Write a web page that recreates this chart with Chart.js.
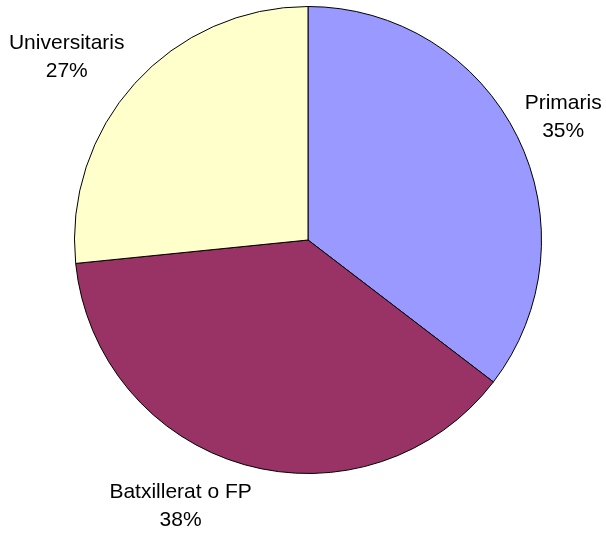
<!DOCTYPE html>
<html>
<head>
<meta charset="utf-8">
<script src="https://cdn.jsdelivr.net/npm/chart.js@4/dist/chart.umd.min.js"></script>
<style>
html,body{margin:0;padding:0;background:#fff;}
#wrap{width:606px;height:536px;position:relative;}
</style>
</head>
<body>
<div id="wrap"><canvas id="c" width="606" height="536"></canvas></div>
<script>
const categories = ["Primaris", "Batxillerat o FP", "Universitaris"];
const values = [35.4, 38.0, 26.6];
const percentLabels = ["35%", "38%", "27%"];
const colors = ["#9999FF", "#993366", "#FFFFCC"];

const labelPlugin = {
  id: 'sliceLabels',
  afterDraw(chart, args, opts) {
    const ctx = chart.ctx;
    const meta = chart.getDatasetMeta(0);
    ctx.save();
    ctx.fillStyle = '#000';
    ctx.font = '21px "Liberation Sans", Arial, sans-serif';
    ctx.textAlign = 'center';
    ctx.textBaseline = 'middle';
    meta.data.forEach((arc, i) => {
      const p = arc.getProps(['x','y','startAngle','endAngle','outerRadius'], true);
      const mid = (p.startAngle + p.endAngle) / 2;
      const r = p.outerRadius + opts.gap;
      const sh = opts.shift[i];
      const cx = p.x + Math.cos(mid) * r + sh[0];
      const cy = p.y + Math.sin(mid) * r + sh[1];
      ctx.fillText(categories[i], cx, cy - opts.lineGap / 2);
      ctx.fillText(percentLabels[i], cx, cy + opts.lineGap / 2);
    });
    ctx.restore();
  }
};

new Chart(document.getElementById('c'), {
  type: 'pie',
  data: {
    labels: categories,
    datasets: [{
      data: values,
      backgroundColor: colors,
      borderColor: '#000',
      borderWidth: 1
    }]
  },
  options: {
    responsive: false,
    animation: false,
    events: [],
    layout: { padding: { left: 74, right: 64, top: 6, bottom: 62 } },
    plugins: {
      legend: { display: false },
      tooltip: { enabled: false },
      sliceLabels: { gap: 50, lineGap: 28, shift: [[1, 3], [-50, -7], [-31, 7]] }
    }
  },
  plugins: [labelPlugin]
});
</script>
</body>
</html>
